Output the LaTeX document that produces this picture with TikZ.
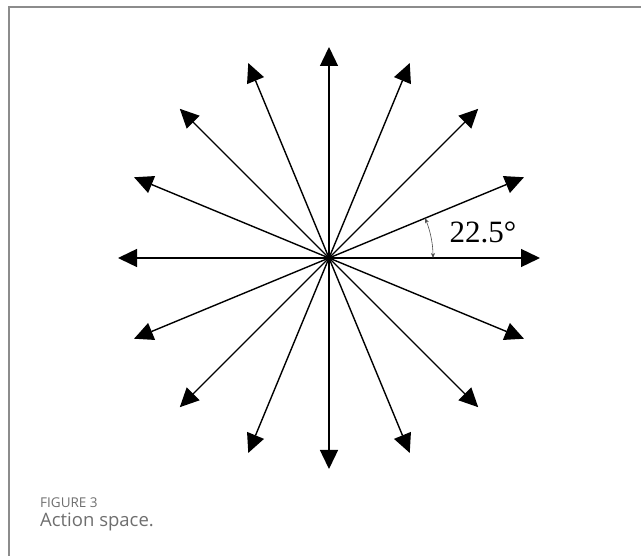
\documentclass[tikz,border=0pt]{standalone}
\usepackage{fontspec}
\setmainfont{Liberation Serif}
\newfontfamily\capfont{Open Sans}
\usetikzlibrary{arrows.meta}
\definecolor{framegray}{HTML}{8C8C8C}
\definecolor{capgray}{HTML}{6E6E6E}
\tikzset{
  ray/.style={line width=1.4pt, -{Triangle[length=19pt,width=18pt]}},
  anglearc/.style={line width=0.6pt, color=black!70, {Stealth[length=5pt,width=4pt]}-{Stealth[length=5pt,width=4pt]}},
  frame/.style={draw=framegray, line width=2pt}
}
\begin{document}
\begin{tikzpicture}[x=1pt,y=-1pt]
\useasboundingbox (0,0) rectangle (641,556);
\draw[frame] (8.5,556) -- (8.5,7.5) -- (641,7.5);
\coordinate (c) at (329,258);
\foreach \i in {0,...,15}{
  \coordinate (t\i) at ({329+211*cos(22.5*\i)},{258-211*sin(22.5*\i)});
  \draw[ray] (c) -- (t\i);
}
\coordinate (a0) at (433,258);
\draw[anglearc] (a0) arc[start angle=0,end angle=-22.5,radius=104];
\node[font=\fontsize{31}{34}\selectfont, inner sep=0pt] (lbl) at (483,232) {22.5°};
\node[font=\capfont\fontsize{13.5}{16}\selectfont, text=capgray, anchor=west, inner sep=0pt] (fig) at (40,503) {FIGURE 3};
\node[font=\capfont\fontsize{18.5}{21}\selectfont, text=capgray, anchor=west, inner sep=0pt] (cap) at (40,522) {Action space.};
\end{tikzpicture}
\end{document}
